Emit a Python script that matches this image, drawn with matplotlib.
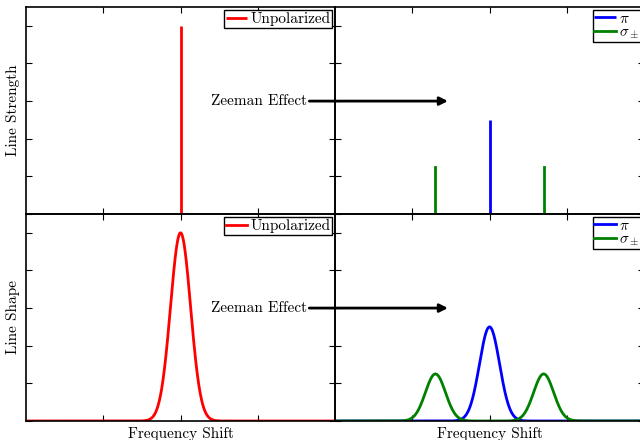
import numpy as np
import matplotlib
matplotlib.use('Agg')
import matplotlib.pyplot as plt

plt.rcParams['font.family'] = 'cmr10'
plt.rcParams['mathtext.fontset'] = 'cm'
plt.rcParams['axes.formatter.use_mathtext'] = True
plt.rcParams['font.size'] = 11

# line components
unpol_pos = [0.0]
unpol_strength = [1.0]
pi_pos = [0.0]
pi_strength = [0.5]
sigma_pos = [-0.7, 0.7]
sigma_strength = [0.25, 0.25]
line_width = 0.13  # gaussian sigma of each profile

x = np.linspace(-2, 2, 801)


def profile(pos, strength):
    y = np.zeros_like(x)
    for p, s in zip(pos, strength):
        y += s * np.exp(-0.5 * ((x - p) / line_width) ** 2)
    return y


fig = plt.figure(figsize=(6.4, 4.4), dpi=100)
w, h = 0.483, 0.4705
ax_tl = fig.add_axes([0.0406, 0.5136, w, h])
ax_tr = fig.add_axes([0.5234, 0.5136, w, h])
ax_bl = fig.add_axes([0.0406, 0.0432, w, h])
ax_br = fig.add_axes([0.5234, 0.0432, w, h])

# top: line strengths
ax_tl.vlines(unpol_pos, 0, unpol_strength, color='red', lw=2, label='Unpolarized')
ax_tr.vlines(pi_pos, 0, pi_strength, color='blue', lw=2, label=r'$\pi$')
sx = [sigma_pos[0], sigma_pos[0], sigma_pos[1], sigma_pos[1]]
sy = [sigma_strength[0], 0, 0, sigma_strength[1]]
ax_tr.plot(sx, sy, color='green', lw=2, label=r'$\sigma_\pm$')

# bottom: line shapes
ax_bl.plot(x, profile(unpol_pos, unpol_strength), color='red', lw=2, label='Unpolarized')
ax_br.plot(x, profile(pi_pos, pi_strength), color='blue', lw=2, label=r'$\pi$')
ax_br.plot(x, profile(sigma_pos, sigma_strength), color='green', lw=2, label=r'$\sigma_\pm$')

for ax in (ax_tl, ax_tr, ax_bl, ax_br):
    ax.patch.set_visible(False)
    ax.set_xlim(-2, 2)
    ax.set_ylim(0, 1.1)
    ax.set_xticks([-1, 0, 1])
    ax.set_yticks([0, 0.2, 0.4, 0.6, 0.8, 1.0])
    ax.tick_params(direction='in', top=True, right=True, labelleft=False,
                   labelbottom=False, length=4, width=0.8)
    for s in ax.spines.values():
        s.set_linewidth(1.2)
    leg = ax.legend(loc='upper right', handlelength=1.4, handletextpad=0.2,
                    borderpad=0.1, borderaxespad=0.22, labelspacing=0.0,
                    fancybox=False, framealpha=1, edgecolor='black')
    leg.get_frame().set_linewidth(1.0)

for ax in (ax_tl, ax_bl):
    ax.annotate('Zeeman Effect', xy=(3.46, 0.6), xytext=(1.63, 0.6),
                ha='right', va='center', annotation_clip=False, zorder=10,
                arrowprops=dict(arrowstyle='-|>', color='black', lw=2,
                                shrinkA=0, shrinkB=0, mutation_scale=12))

ax_tl.set_ylabel('Line Strength')
ax_bl.set_ylabel('Line Shape')
ax_tl.yaxis.set_label_coords(-0.018, 0.5)
ax_bl.yaxis.set_label_coords(-0.018, 0.5)
ax_bl.set_xlabel('Frequency Shift')
ax_br.set_xlabel('Frequency Shift')
ax_bl.xaxis.set_label_coords(0.5, -0.028)
ax_br.xaxis.set_label_coords(0.5, -0.028)

fig.savefig('out.png', dpi=100)
